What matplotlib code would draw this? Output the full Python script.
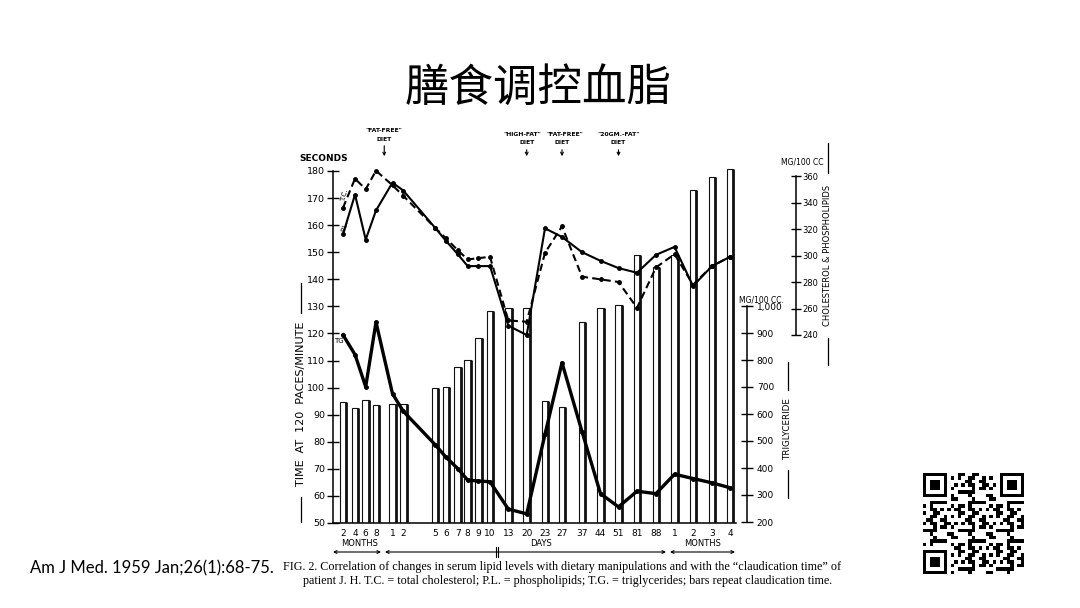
import numpy as np
import matplotlib.pyplot as plt
from matplotlib.lines import Line2D

# valores leídos de la figura original
# posición de cada muestra en el eje x (eje no uniforme: meses / días / meses)
x_pos = [10, 22, 32.7, 43, 59.5, 70.3, 102, 113, 124.7, 134.7, 145.3, 157,
         175.3, 193.7, 212, 229, 249, 267.5, 285.5, 304, 323, 341.5, 360, 379, 397]
x_labels = ['2', '4', '6', '8', '1', '2', '5', '6', '7', '8', '9', '10', '13', '20',
            '23', '27', '37', '44', '51', '81', '88', '1', '2', '3', '4']

# tiempo de claudicación (segundos) -> barras
claudicacion = [94.5, 92.5, 95.6, 93.5, 93.9, 93.9, 99.7, 100.1, 107.5, 110.1, 118.2, 128.3,
                129.5, 129.5, 95.0, 92.7, 124.4, 129.3, 130.4, 149.0, 144.7, 149.0,
                173.1, 177.8, 180.8]
# triglicéridos (mg/100 cc)
trigliceridos = [893, 820, 701, 940, 675, 610, 487, 440, 398, 355, 352, 349,
                 248, 230, 525, 790, 535, 305, 256, 314, 305, 377, 361, 345, 327]
# colesterol total (línea discontinua) y fosfolípidos (línea continua), mg/100 cc
colesterol = [336, 358, 350, 364, 353, 345, 321, 313, 304, 297, 298, 299,
              251, 250, 302, 322, 284, 282, 280, 260.5, 291, 301, 278, 292, 299]
fosfolipidos = [316, 346, 312, 334, 355, 349, 321, 311, 301, 292, 292, 292,
                247, 240, 320.5, 314, 302.5, 296, 290.5, 287, 300.5, 306.5, 277, 292, 299]

dietas = ['"FAT-FREE"', '"HIGH-FAT"', '"FAT-FREE"', '"20GM.-FAT"']
dieta_x = [(x_pos[3] + x_pos[4]) / 2, x_pos[13], x_pos[15], x_pos[18]]
dieta_dx = [0, -4, 3, 0]

W, H = 1080, 608
fig = plt.figure(figsize=(W / 100, H / 100), dpi=100)
fig.patch.set_facecolor('white')


def fxy(x, y):
    return x / W, 1 - y / H


def txt(x, y, s, **kw):
    fx, fy = fxy(x, y)
    fig.text(fx, fy, s, ha=kw.pop('ha', 'center'), va=kw.pop('va', 'center'), **kw)


def vline(x, y1, y2, lw=0.9):
    (a, b), (c, d) = fxy(x, y1), fxy(x, y2)
    fig.add_artist(Line2D([a, c], [b, d], color='k', lw=lw))


# ejes principales (segundos)
left, right, bottom, top = 333, 747, 523, 140
ax = fig.add_axes([left / W, 1 - bottom / H, (right - left) / W, (bottom - top) / H])
ax.set_xlim(0, right - left)
px_seg = 2.708
ax.set_ylim(50, 50 + (bottom - top) / px_seg)

ancho = 6.5
ax.bar(x_pos, [c - 50 for c in claudicacion], bottom=50, width=ancho, facecolor='white',
       edgecolor='#111111', linewidth=0.8, zorder=2)
ax.vlines([x + ancho / 2 for x in x_pos], 50, claudicacion, color='#111111', lw=2.0, zorder=3)

for s in ['top', 'right']:
    ax.spines[s].set_visible(False)
ax.spines['left'].set_bounds(50, 180)
ax.spines['bottom'].set_bounds(0, 403)
ax.spines['left'].set_linewidth(1.1)
ax.spines['bottom'].set_linewidth(1.1)
ax.set_yticks(range(50, 181, 10))
ax.tick_params(axis='y', direction='inout', length=8, width=1.0, labelsize=6.8, pad=1.5)
ax.set_xticks(x_pos)
ax.set_xticklabels(x_labels)
ax.tick_params(axis='x', length=0, labelsize=6.5, pad=4)

# eje de triglicéridos
ax_tg = ax.twinx()
px_tg = 0.27
tg0 = 200 - 1 / px_tg
ax_tg.set_ylim(tg0, tg0 + (bottom - top) / px_tg)
ax_tg.plot(x_pos, trigliceridos, color='k', lw=2.4, marker='o', ms=2.5, zorder=4)
for s in ['top', 'left', 'bottom']:
    ax_tg.spines[s].set_visible(False)
ax_tg.spines['right'].set_bounds(200, 1000)
ax_tg.spines['right'].set_linewidth(1.1)
ax_tg.set_yticks(range(200, 1001, 100))
ax_tg.set_yticklabels([f'{v:,}' for v in range(200, 1001, 100)])
ax_tg.tick_params(axis='y', direction='inout', length=8, width=1.0, labelsize=6.5, pad=3)

# eje de colesterol y fosfolípidos
ax_c = ax.twinx()
px_c = 1.325
c0 = 240 - (bottom - 335) / px_c
ax_c.set_ylim(c0, c0 + (bottom - top) / px_c)
ax_c.plot(x_pos, fosfolipidos, color='k', lw=1.5, marker='o', ms=2.5, zorder=4)
ax_c.plot(x_pos, colesterol, color='k', lw=1.5, ls=(0, (3.5, 2)), marker='o', ms=2.5, zorder=4)
for s in ['top', 'left', 'bottom']:
    ax_c.spines[s].set_visible(False)
ax_c.spines['right'].set_position(('axes', (796 - left) / (right - left)))
ax_c.spines['right'].set_bounds(240, 360)
ax_c.spines['right'].set_linewidth(1.1)
ax_c.set_yticks(range(240, 361, 20))
ax_c.tick_params(axis='y', direction='inout', length=7, width=1.0, labelsize=6, pad=0.8)

# rótulos de ejes
txt(324, 158, 'SECONDS', fontsize=6.5, fontweight='bold')
txt(301, 404, 'TIME  AT  120  PACES/MINUTE', rotation=90, fontsize=8)
vline(301, 283, 313)
vline(301, 497, 522)
txt(761, 300, 'MG/100 CC.', fontsize=5.5)
txt(788, 429, 'TRIGLYCERIDE', rotation=90, fontsize=6.3)
vline(788, 362, 390)
vline(788, 470, 498)
txt(802, 162, 'MG/100 CC', fontsize=5.5)
txt(828, 255, 'CHOLESTEROL & PHOSPHOLIPIDS', rotation=90, fontsize=6.0)
vline(828, 143, 173)
vline(828, 338, 365)
txt(339, 341, 'TG', fontsize=5)
txt(345, 195, 'T.C.', fontsize=5, rotation=75)
txt(345, 226, 'P.L.', fontsize=5, rotation=75)

# flechas de dieta
for i, (d, xd, dx) in enumerate(zip(dietas, dieta_x, dieta_dx)):
    xf = left + xd
    y0 = 131 if i == 0 else 135
    txt(xf + dx, y0, d, fontsize=4.4, fontweight='bold')
    txt(xf, y0 + 8, 'DIET', fontsize=4.4, fontweight='bold')
    fig.add_artist(plt.Annotation('', xy=fxy(xf, 159), xytext=fxy(xf, y0 + 12),
                                  xycoords='figure fraction',
                                  arrowprops=dict(arrowstyle='->', lw=0.8, color='k',
                                                  mutation_scale=5)))

# escalas de tiempo bajo el eje
txt(left + (x_pos[0] + x_pos[3]) / 2, 544, 'MONTHS', fontsize=6)
txt(541, 544, 'DAYS', fontsize=6)
txt(left + (x_pos[21] + x_pos[24]) / 2, 544, 'MONTHS', fontsize=6)
for a, b in [(333, 381), (385, 666), (670, 735)]:
    fig.add_artist(plt.Annotation('', xy=fxy(b, 552), xytext=fxy(a, 552),
                                  xycoords='figure fraction',
                                  arrowprops=dict(arrowstyle='<->', lw=0.8, color='k',
                                                  mutation_scale=5, shrinkA=0, shrinkB=0)))
vline(496, 547, 557, lw=0.8)
vline(498, 547, 557, lw=0.8)

# título y referencias
fig.text(0.498, 1 - 88 / H, '膳食调控血脂', ha='center', va='center', fontsize=32,
         fontweight='light', family=['Noto Sans CJK SC', 'DejaVu Sans'])
txt(30, 568, 'Am J Med. 1959 Jan;26(1):68-75.', ha='left', fontsize=12,
    family=['Lato', 'DejaVu Sans'])
txt(283, 567, 'FIG. 2. Correlation of changes in serum lipid levels with dietary manipulations '
    'and with the \u201cclaudication time\u201d of', ha='left', fontsize=8.7,
    family=['Liberation Serif', 'DejaVu Serif'])
txt(303, 581, 'patient J. H. T.C. = total cholesterol; P.L. = phospholipids; T.G. = '
    'triglycerides; bars repeat claudication time.', ha='left', fontsize=8.7,
    family=['Liberation Serif', 'DejaVu Serif'])

# código QR (decorativo)
n = 29
i, j = np.indices((n, n))
qr = (((i * i * 7 + j * j * 3 + i * j * 5 + i + 2 * j) % 11) < 5).astype(float)
for r, c in [(0, 0), (0, n - 7), (n - 7, 0)]:
    qr[max(r - 1, 0):r + 8, max(c - 1, 0):c + 8] = 0
    qr[r:r + 7, c:c + 7] = 1
    qr[r + 1:r + 6, c + 1:c + 6] = 0
    qr[r + 2:r + 5, c + 2:c + 5] = 1
ax_qr = fig.add_axes([923 / W, 1 - 574 / H, 101 / W, 101 / H])
ax_qr.imshow(qr, cmap='gray_r', interpolation='nearest')
ax_qr.axis('off')

fig.savefig('out.png', dpi=100, facecolor='white')
